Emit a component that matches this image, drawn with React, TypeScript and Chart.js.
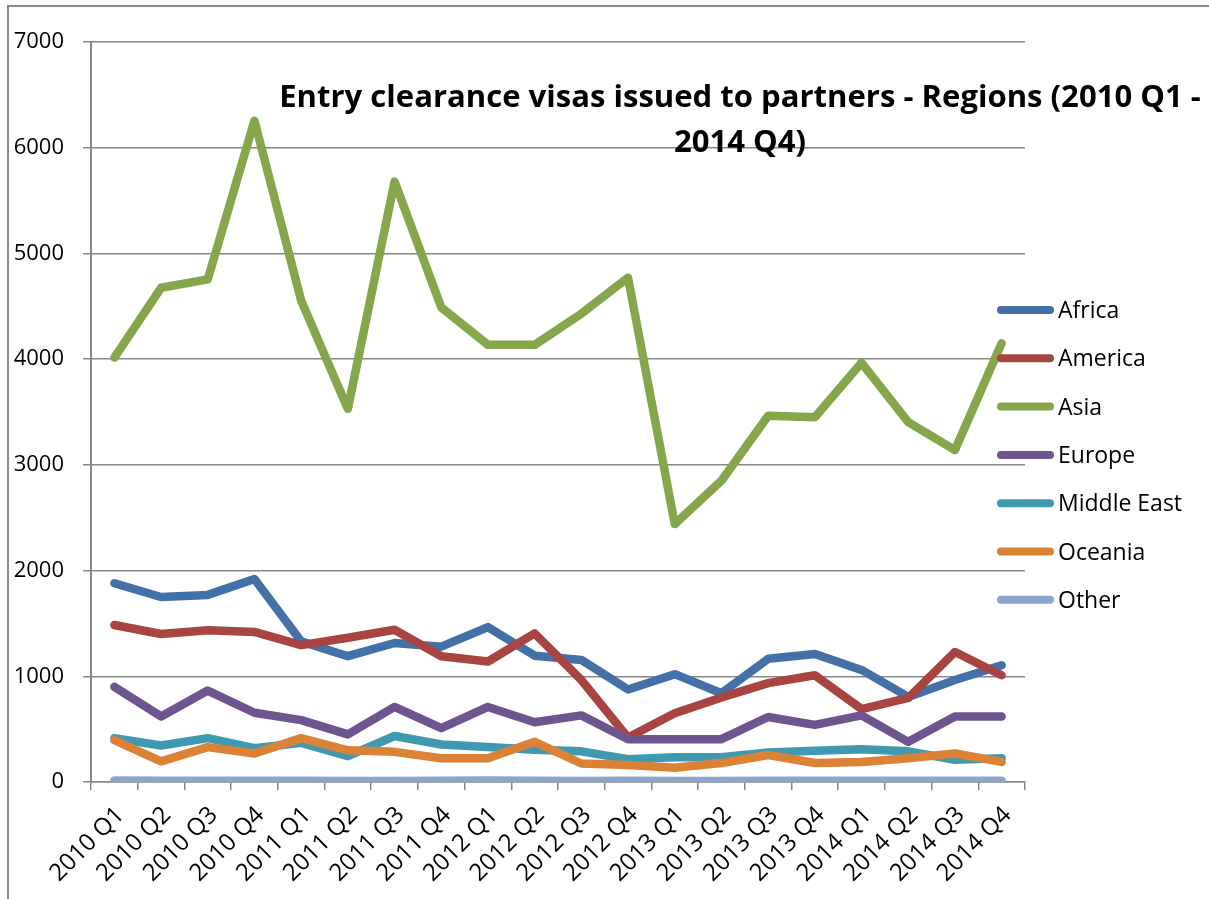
import React, { useEffect, useRef } from "react";
import { Chart, registerables } from "chart.js";

Chart.register(...registerables);

const W = 1209;
const H = 899;

const categories = [
  "2010 Q1", "2010 Q2", "2010 Q3", "2010 Q4",
  "2011 Q1", "2011 Q2", "2011 Q3", "2011 Q4",
  "2012 Q1", "2012 Q2", "2012 Q3", "2012 Q4",
  "2013 Q1", "2013 Q2", "2013 Q3", "2013 Q4",
  "2014 Q1", "2014 Q2", "2014 Q3", "2014 Q4",
];

const africa = [1880, 1750, 1770, 1920, 1330, 1190, 1315, 1280, 1465, 1195, 1155, 875, 1020, 840, 1165, 1210, 1060, 805, 965, 1105];
const america = [1485, 1400, 1435, 1420, 1295, 1365, 1440, 1190, 1140, 1405, 965, 420, 650, 800, 935, 1010, 690, 795, 1230, 1010];
const asia = [4015, 4675, 4755, 6255, 4555, 3530, 5680, 4490, 4135, 4135, 4430, 4770, 2440, 2850, 3465, 3450, 3965, 3405, 3140, 4150];
const europe = [900, 620, 865, 655, 585, 450, 710, 510, 710, 565, 630, 405, 405, 405, 615, 540, 630, 380, 620, 620];
const middleEast = [415, 345, 415, 320, 370, 245, 435, 355, 330, 305, 290, 215, 235, 235, 280, 295, 310, 290, 210, 225];
const oceania = [395, 195, 330, 270, 415, 300, 285, 225, 225, 380, 175, 160, 135, 180, 255, 180, 190, 225, 270, 190];
const other = [15, 13, 12, 11, 12, 9, 10, 12, 14, 11, 10, 12, 9, 10, 13, 12, 11, 12, 13, 12];

const seriesNames = ["Africa", "America", "Asia", "Europe", "Middle East", "Oceania", "Other"];
const seriesValues = [africa, america, asia, europe, middleEast, oceania, other];
const seriesColors = ["#4470A8", "#A84441", "#86A64B", "#6E558F", "#3F9AB1", "#DC8237", "#8DA5CB"];

const yTicks = [0, 1000, 2000, 3000, 4000, 5000, 6000, 7000];

const titleLines = ["Entry clearance visas issued to partners - Regions (2010 Q1 -", "2014 Q4)"];

const FONT = '"Open Sans", "DejaVu Sans", sans-serif';
const GRID = "#878787";

const overlayPlugin = {
  id: "overlay",
  afterDraw(chart: any) {
    const ctx = chart.ctx as CanvasRenderingContext2D;
    ctx.save();
    // outer frame
    ctx.strokeStyle = "#8a8a8a";
    ctx.lineWidth = 2;
    ctx.beginPath();
    ctx.moveTo(8, H);
    ctx.lineTo(8, 6);
    ctx.lineTo(W, 6);
    ctx.stroke();

    // title
    ctx.fillStyle = "#000";
    ctx.font = `bold 30px ${FONT}`;
    const w0 = ctx.measureText(titleLines[0]).width;
    const size = (30 * 922) / w0;
    ctx.font = `bold ${size}px ${FONT}`;
    ctx.textAlign = "center";
    ctx.textBaseline = "alphabetic";
    ctx.fillText(titleLines[0], 740, 107);
    ctx.fillText(titleLines[1], 740, 152);

    // legend
    ctx.font = `23px ${FONT}`;
    ctx.textAlign = "left";
    chart.data.datasets.forEach((ds: any, i: number) => {
      const y = 310 + i * 48.3;
      ctx.strokeStyle = ds.borderColor;
      ctx.lineWidth = 8;
      ctx.lineCap = "round";
      ctx.beginPath();
      ctx.moveTo(1001, y);
      ctx.lineTo(1050, y);
      ctx.stroke();
      ctx.fillStyle = "#000";
      ctx.fillText(ds.label, 1058, y + 8);
    });
    ctx.restore();
  },
};

export default function App() {
  const ref = useRef<HTMLCanvasElement>(null);

  useEffect(() => {
    if (!ref.current) return;
    const chart = new Chart(ref.current, {
      type: "line",
      data: {
        labels: categories,
        datasets: seriesNames.map((name, i) => ({
          label: name,
          data: seriesValues[i],
          borderColor: seriesColors[i],
          backgroundColor: seriesColors[i],
          borderWidth: 8.5,
          borderCapStyle: "round",
          borderJoinStyle: "round",
          pointRadius: 0,
          pointHoverRadius: 0,
          tension: 0,
          fill: false,
          order: seriesNames.length - 1 - i,
        })),
      },
      options: {
        responsive: false,
        animation: false,
        devicePixelRatio: 1,
        layout: { padding: { top: 42, right: W - 1025, bottom: 0, left: 0 } },
        plugins: {
          legend: { display: false },
          title: { display: false },
          tooltip: { enabled: false },
        },
        scales: {
          x: {
            type: "category",
            offset: true,
            grid: {
              display: true,
              drawOnChartArea: false,
              drawTicks: true,
              tickLength: 8,
              offset: true,
              color: GRID,
              lineWidth: 1.5,
            },
            border: { display: true, color: GRID, width: 1.5 },
            ticks: {
              autoSkip: false,
              maxRotation: 45,
              minRotation: 45,
              padding: 11,
              labelOffset: 6,
              color: "#000",
              font: { family: FONT, size: 24 },
            },
            afterFit: (s: any) => {
              s.height = H - 782;
            },
          },
          y: {
            min: yTicks[0],
            max: yTicks[yTicks.length - 1],
            afterBuildTicks: (s: any) => {
              s.ticks = yTicks.map((v) => ({ value: v }));
            },
            grid: {
              color: GRID,
              lineWidth: 1.5,
              drawTicks: true,
              tickLength: 8,
            },
            border: { display: true, color: GRID, width: 2 },
            ticks: {
              padding: 19,
              color: "#000",
              font: { family: FONT, size: 22 },
              callback: (v: any) => String(v),
            },
            afterFit: (s: any) => {
              s.width = 91;
            },
          },
        },
      },
      plugins: [overlayPlugin],
    } as any);
    return () => chart.destroy();
  }, []);

  return (
    <div style={{ position: "absolute", left: 0, top: 0, width: W, height: H, background: "#fff" }}>
      <canvas ref={ref} width={W} height={H} style={{ width: W, height: H, display: "block" }} />
    </div>
  );
}
